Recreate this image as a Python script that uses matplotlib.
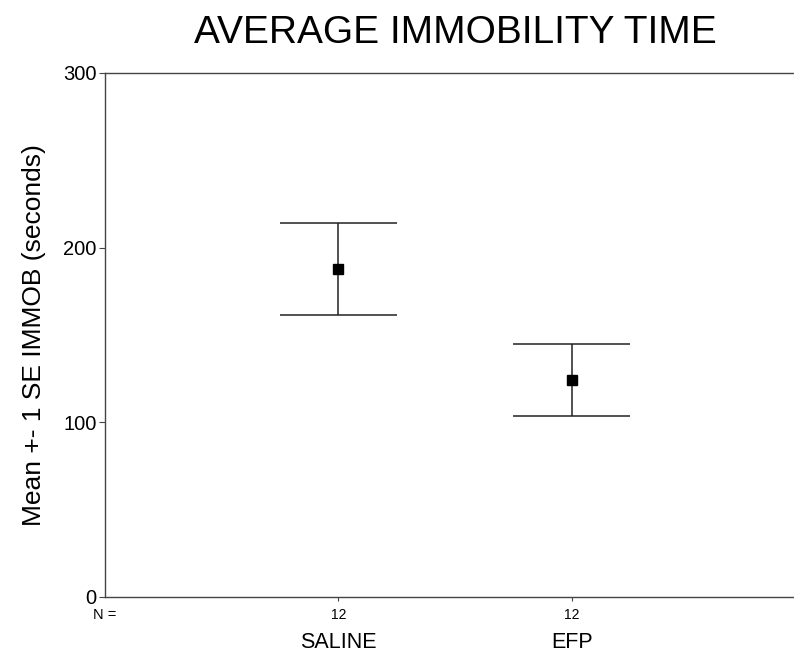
import matplotlib
matplotlib.use('Agg')
import matplotlib.pyplot as plt
import matplotlib.transforms as mtransforms

plt.rcParams['font.family'] = ['Liberation Sans', 'DejaVu Sans']

# data
groups = ['SALINE', 'EFP']
n_counts = [12, 12]
means = [187.8, 124.2]
upper = [214.1, 144.8]
lower = [161.4, 103.6]

fig = plt.figure(figsize=(7.94, 6.53), dpi=100)
ax = fig.add_axes([0.1322, 0.0858, 0.8816, 0.8025])

xs = [1, 2]
for x, m, lo, hi in zip(xs, means, lower, upper):
    ax.vlines(x, lo, hi, color='#222222', lw=1.1)
    ax.hlines([lo, hi], x - 0.25, x + 0.25, color='#222222', lw=1.1)
    ax.plot(x, m, marker='s', ms=6.5, color='black', ls='none')

ax.set_xlim(0, 3)
ax.set_ylim(0, 300)
ax.set_yticks([0, 100, 200, 300])
ax.tick_params(axis='y', labelsize=14.5, length=4, color='#444444', direction='out', pad=2)
ax.set_xticks(xs)
ax.set_xticklabels([])
ax.tick_params(axis='x', length=3, color='#444444', direction='out')
for s in ax.spines.values():
    s.set_color('#444444')
    s.set_linewidth(1.0)

trans = mtransforms.blended_transform_factory(ax.transData, ax.transAxes)
off = ax.get_position().height * fig.get_figheight() * 72
for x, n, g in zip(xs, n_counts, groups):
    ax.text(x, -18 * 0.72 / off, str(n), transform=trans, ha='center', va='center', fontsize=10)
    ax.text(x, -46 * 0.72 / off, g, transform=trans, ha='center', va='center', fontsize=15.5)
ax.text(0, -18 * 0.72 / off, 'N =', transform=trans, ha='center', va='center', fontsize=10.5)

ax.set_ylabel('Mean +- 1 SE IMMOB (seconds)', fontsize=19, labelpad=12)
fig.text(0.574, 0.949, 'AVERAGE IMMOBILITY TIME', ha='center', va='center', fontsize=28)

fig.savefig('out.png', dpi=100)
